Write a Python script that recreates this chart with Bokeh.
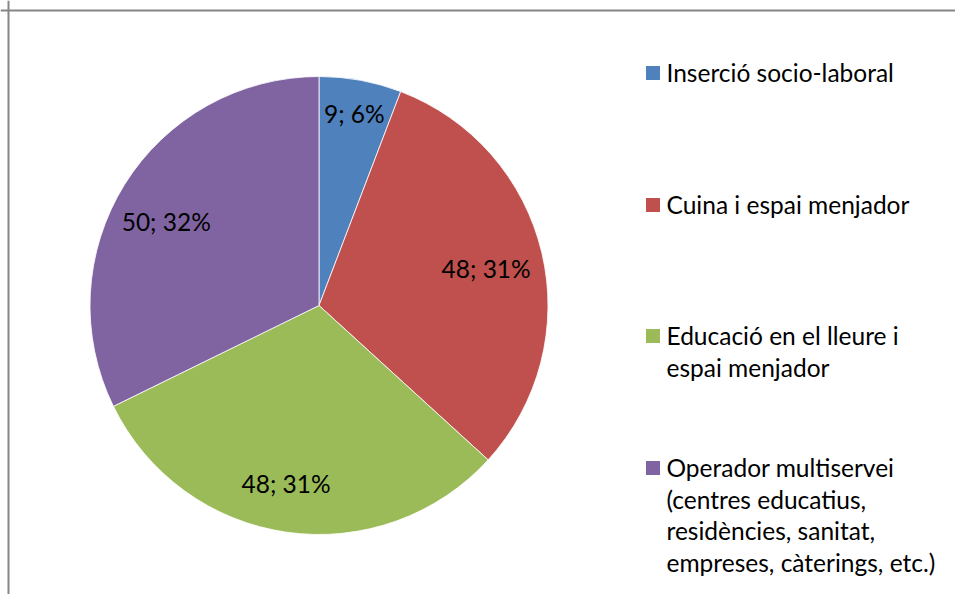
import math
import numpy as np
from bokeh.plotting import figure
from bokeh.models import Range1d, Span, ColumnDataSource
from bokeh.core.properties import value
from bokeh.embed import file_html
from bokeh.resources import INLINE

# ---- data ----
categories = [
    "Inserció socio-laboral",
    "Cuina i espai menjador",
    "Educació en el lleure i espai menjador",
    "Operador multiservei (centres educatius, residències, sanitat, empreses, càterings, etc.)",
]
legend_lines = [
    ["Inserció socio-laboral"],
    ["Cuina i espai menjador"],
    ["Educació en el lleure i", "espai menjador"],
    ["Operador multiservei", "(centres educatius,", "residències, sanitat,", "empreses, càterings, etc.)"],
]
counts = [9, 48, 48, 50]
colors = ["#4F81BD", "#C0504D", "#9BBB59", "#8064A2"]

# ---- layout (screen pixel coordinates) ----
W, H = 955, 594
def Y(sy):
    return H - sy

CX, CY, R = 318.5, Y(305), 229
label_frac = [0.85, 0.75, 0.80, 0.755]
label_dx = [0, 0, -7, -6]      # small screen nudges (px)
label_dy = [-1, 3, -3, 7]      # positive = down
FONT = "Lato"
FS = "24.5px"

p = figure(width=W, height=H, x_range=Range1d(0, W), y_range=Range1d(0, H),
           output_backend="svg", toolbar_location=None, min_border=0)
p.axis.visible = False
p.grid.visible = False
p.outline_line_color = None
p.background_fill_color = "white"
p.border_fill_color = "white"

total = sum(counts)
frac = np.array(counts) / total
cum = np.concatenate([[0], np.cumsum(frac)])
start = math.pi / 2 - cum[1:] * 2 * math.pi
end = math.pi / 2 - cum[:-1] * 2 * math.pi
mid = (start + end) / 2

src = ColumnDataSource(dict(start=start, end=end, color=colors))
p.wedge(x=CX, y=CY, radius=R, start_angle="start", end_angle="end",
        fill_color="color", line_color="white", line_width=0.8, source=src)

# data labels
lx = [CX + R * f * math.cos(a) + dx for f, a, dx in zip(label_frac, mid, label_dx)]
ly = [CY + R * f * math.sin(a) - dy for f, a, dy in zip(label_frac, mid, label_dy)]
labels = [f"{c}; {round(c / total * 100)}%" for c in counts]
p.text(x=lx, y=ly, text=labels, text_font=value(FONT), text_font_size=FS,
       text_align="center", text_baseline="middle", text_color="#000000")

# legend (manual)
entry_top = [72, 204, 335, 467]
line_h = 31.5
sq_x = 652.5
txt_x = 666
p.scatter(x=[sq_x] * 4, y=[Y(t + 0.5) for t in entry_top], marker="square", size=14,
          fill_color=colors, line_color=None)
tx, ty, tt = [], [], []
for t, lines in zip(entry_top, legend_lines):
    for i, ln in enumerate(lines):
        tx.append(txt_x)
        ty.append(Y(t + i * line_h))
        tt.append(ln)
p.text(x=tx, y=ty, text=tt, text_font=value(FONT), text_font_size=FS,
       text_align="left", text_baseline="middle", text_color="#000000")

# chart-area border (top-left corner visible)
p.add_layout(Span(location=8, dimension="height", line_color="#868686", line_width=2))
p.add_layout(Span(location=Y(10), dimension="width", line_color="#868686", line_width=2))

open("out.html", "w").write(file_html(p, INLINE))
